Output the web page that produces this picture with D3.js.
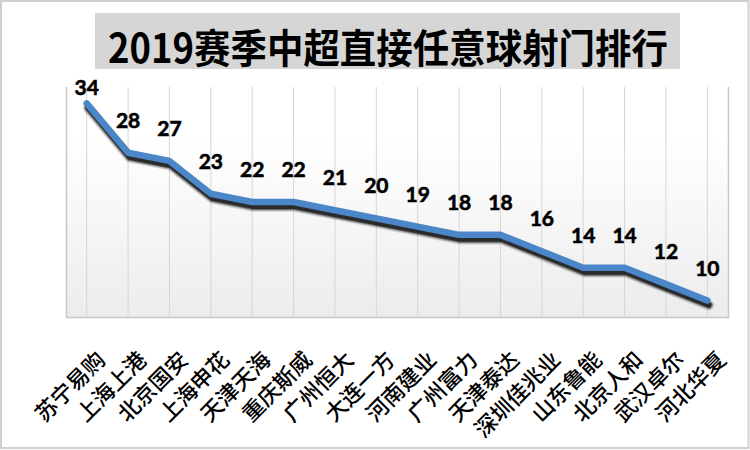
<html>
<head>
<meta charset="utf-8">
<script src="https://d3js.org/d3.v7.min.js"></script>
<style>
    body { margin: 0; background: white; }
    .title { font-family: "Noto Sans CJK SC"; font-weight: bold; font-size: 40px; fill: black; }
    .valueLabel { font-family: Lato, "Open Sans"; font-weight: bold; font-size: 21px; fill: black;
        stroke: black; stroke-width: 0.6px; text-anchor: middle; }
    .xLabel { font-family: "Noto Sans CJK SC"; font-weight: 500; font-size: 22px; fill: black; }
</style>
</head>
<body>
<svg id="chart" width="750" height="450"></svg>
<script>
    // data
    const teams = ["苏宁易购", "上海上港", "北京国安", "上海申花", "天津天海", "重庆斯威", "广州恒大", "大连一方",
        "河南建业", "广州富力", "天津泰达", "深圳佳兆业", "山东鲁能", "北京人和", "武汉卓尔", "河北华夏"];
    const goals = [34, 28, 27, 23, 22, 22, 21, 20, 19, 18, 18, 16, 14, 14, 12, 10];
    const titleText = "2019赛季中超直接任意球射门排行";

    const svg = d3.select("#chart");
    const width = +svg.attr("width");
    const height = +svg.attr("height");
    const plot = { left: 66, right: 728, top: 87, bottom: 317 };

    const defs = svg.append("defs");
    const grad = defs.append("linearGradient").attr("id", "plotBg")
        .attr("x1", 0).attr("y1", 0).attr("x2", 0).attr("y2", 1);
    grad.append("stop").attr("offset", "0%").attr("stop-color", "#ffffff");
    grad.append("stop").attr("offset", "22%").attr("stop-color", "#ffffff");
    grad.append("stop").attr("offset", "100%").attr("stop-color", "#ececec");

    // chart border
    svg.append("rect").attr("x", 1).attr("y", 1).attr("width", width - 2.5).attr("height", height - 3)
        .attr("fill", "white").attr("stroke", "#d0d0d0").attr("stroke-width", 2);

    // scales
    const x = d3.scaleBand().domain(teams).range([plot.left, plot.right]).padding(0);
    const cx = d => x(d) + x.bandwidth() / 2;
    const y = d3.scaleLinear().domain([8, 36]).range([plot.bottom, plot.top]);

    // plot area
    svg.append("rect").attr("x", plot.left).attr("y", plot.top)
        .attr("width", plot.right - plot.left).attr("height", plot.bottom - plot.top)
        .attr("fill", "url(#plotBg)");

    // vertical gridlines
    const grid = d3.axisBottom(x).tickSize(-(plot.bottom - plot.top)).tickFormat("");
    const gridG = svg.append("g").attr("transform", `translate(0,${plot.bottom})`).call(grid);
    gridG.selectAll(".tick line").attr("stroke", "#d6d6d6");
    gridG.select(".domain").attr("stroke", "#c8c8c8").attr("stroke-width", 1.5);

    // line with a soft shadow built from stacked strokes
    const line = d3.line().x((d, i) => cx(teams[i])).y(d => y(d));
    const shadowLayers = [
        { w: 11, o: 0.12 },
        { w: 9, o: 0.2 },
        { w: 7, o: 0.45 },
        { w: 5, o: 0.7 }
    ];
    shadowLayers.forEach(s => {
        svg.append("path").datum(goals)
            .attr("d", line)
            .attr("transform", "translate(1.5,4.5)")
            .attr("fill", "none")
            .attr("stroke", "#111")
            .attr("stroke-opacity", s.o)
            .attr("stroke-width", s.w)
            .attr("stroke-linejoin", "round")
            .attr("stroke-linecap", "round");
    });
    svg.append("path").datum(goals)
        .attr("d", line)
        .attr("fill", "none")
        .attr("stroke", "#4a86c8")
        .attr("stroke-width", 6.5)
        .attr("stroke-linejoin", "round")
        .attr("stroke-linecap", "round");

    // value labels
    svg.selectAll(".valueLabel").data(goals).join("text")
        .attr("class", "valueLabel")
        .attr("x", (d, i) => cx(teams[i]))
        .attr("y", d => Math.max(y(d) - 25, 95))
        .text(d => d);

    // category labels, rotated
    svg.selectAll(".xLabel").data(teams).join("text")
        .attr("class", "xLabel")
        .attr("text-anchor", "end")
        .attr("dominant-baseline", "central")
        .attr("transform", d => `translate(${cx(d) + 13},${plot.bottom + 37}) rotate(-45)`)
        .text(d => d);

    // title
    svg.append("rect").attr("x", 95).attr("y", 13).attr("width", 585).attr("height", 56)
        .attr("fill", "#d6d6d6");
    svg.append("text").attr("class", "title")
        .attr("x", 108).attr("y", 46)
        .attr("dominant-baseline", "central")
        .attr("textLength", 560)
        .attr("lengthAdjust", "spacingAndGlyphs")
        .text(titleText);
</script>
</body>
</html>
